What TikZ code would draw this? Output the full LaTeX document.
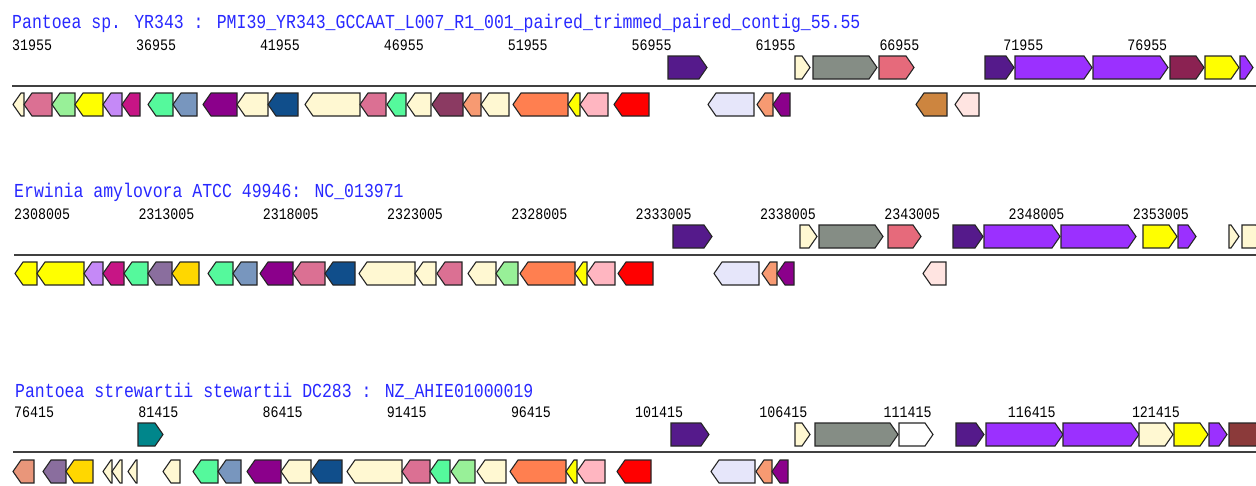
\documentclass[tikz,border=0pt]{standalone}
\usepackage{fontspec}
\usepackage{graphicx}
\newfontfamily\monof{Liberation Mono}
\definecolor{titleblue}{RGB}{40,40,255}
\definecolor{cream}{HTML}{FFF8D2}
\definecolor{pinkv}{HTML}{DB7093}
\definecolor{lgreen}{HTML}{98F098}
\definecolor{yel}{HTML}{FFFF00}
\definecolor{lav}{HTML}{C589F7}
\definecolor{mag}{HTML}{C71585}
\definecolor{aqua}{HTML}{55F99C}
\definecolor{steel}{HTML}{7896BE}
\definecolor{purp}{HTML}{8B008B}
\definecolor{dblue}{HTML}{104E8B}
\definecolor{hpink}{HTML}{8B3A62}
\definecolor{salm}{HTML}{F79A72}
\definecolor{coral}{HTML}{FF7F50}
\definecolor{lpink}{HTML}{FFB6C1}
\definecolor{red}{HTML}{FF0000}
\definecolor{lavl}{HTML}{E6E6FA}
\definecolor{indig}{HTML}{551A8B}
\definecolor{grayg}{HTML}{858D85}
\definecolor{pinkred}{HTML}{E66A7B}
\definecolor{purpb}{HTML}{9B30FF}
\definecolor{maroon}{HTML}{8B2252}
\definecolor{peru}{HTML}{CD853F}
\definecolor{misty}{HTML}{FFE4E1}
\definecolor{gold}{HTML}{FFD700}
\definecolor{gpurp}{HTML}{8A6E9E}
\definecolor{dsalm}{HTML}{E9967A}
\definecolor{teal}{HTML}{00868B}
\definecolor{brn}{HTML}{8B3A3A}
\tikzset{
  gene/.style={draw=black!85, line width=1.1pt, line join=miter},
  axisline/.style={draw=black!75, line width=2pt},
  titletext/.style={anchor=base west, inner sep=0pt, text=titleblue, font=\monof\fontsize{16.5}{18}\selectfont},
  numtext/.style={anchor=base west, inner sep=0pt, text=black, font=\monof\fontsize{13.3}{15}\selectfont}
}
\newcommand\gR[4]{%
  \pgfmathsetmacro{\gtip}{min(8,#2-#1)}%
  \filldraw[gene, fill=#4] (#1,#3) -- ({#2-\gtip},#3) -- (#2,{#3+11.5}) -- ({#2-\gtip},{#3+23}) -- (#1,{#3+23}) -- cycle;}
\newcommand\gL[4]{%
  \pgfmathsetmacro{\gtip}{min(8,#2-#1)}%
  \filldraw[gene, fill=#4] (#2,#3) -- ({#1+\gtip},#3) -- (#1,{#3+11.5}) -- ({#1+\gtip},{#3+23}) -- (#2,{#3+23}) -- cycle;}
\begin{document}
\begin{tikzpicture}[x=1pt,y=-1pt]
\useasboundingbox (0,0) rectangle (1256,485);
\clip (0,0) rectangle (1256,485);
\fill[white] (0,0) rectangle (1256,485);

% ---------------- Row 1 ----------------
\node[titletext] (t1) at (12,28) {\scalebox{1}[1.2]{Pantoea sp. YR343 : PMI39\_YR343\_GCCAAT\_L007\_R1\_001\_paired\_trimmed\_paired\_contig\_55.55}};
\foreach \lab [count=\k from 0] in {31955,36955,41955,46955,51955,56955,61955,66955,71955,76955}
  \node[numtext] (ra\k) at ({12+123.9*\k},50) {\scalebox{1}[1.2]{\lab}};
\draw[axisline] (12,86) -- (1256,86);
\gR{668}{707}{56}{indig}
\gR{795}{810}{56}{cream}
\gR{813}{877}{56}{grayg}
\gR{879}{914}{56}{pinkred}
\gR{985}{1014}{56}{indig}
\gR{1015}{1092}{56}{purpb}
\gR{1093}{1168}{56}{purpb}
\gR{1170}{1204}{56}{maroon}
\gR{1205}{1239}{56}{yel}
\gR{1240}{1253}{56}{purpb}
\gL{13}{24}{93}{cream}
\gL{24}{52}{93}{pinkv}
\gL{52}{75}{93}{lgreen}
\gL{75}{103}{93}{yel}
\gL{103}{122}{93}{lav}
\gL{122}{140}{93}{mag}
\gL{148}{173}{93}{aqua}
\gL{173}{197}{93}{steel}
\gL{203}{237}{93}{purp}
\gL{237}{268}{93}{cream}
\gL{268}{298}{93}{dblue}
\gL{305}{360}{93}{cream}
\gL{360}{386}{93}{pinkv}
\gL{387}{406}{93}{aqua}
\gL{407}{431}{93}{cream}
\gL{432}{463}{93}{hpink}
\gL{463}{481}{93}{salm}
\gL{481}{509}{93}{cream}
\gL{513}{568}{93}{coral}
\gL{568}{580}{93}{yel}
\gL{580}{608}{93}{lpink}
\gL{614}{649}{93}{red}
\gL{708}{754}{93}{lavl}
\gL{757}{773}{93}{salm}
\gL{773}{790}{93}{purp}
\gL{916}{947}{93}{peru}
\gL{955}{979}{93}{misty}

% ---------------- Row 2 ----------------
\node[titletext] (t2) at (14,197) {\scalebox{1}[1.2]{Erwinia amylovora ATCC 49946: NC\_013971}};
\foreach \lab [count=\k from 0] in {2308005,2313005,2318005,2323005,2328005,2333005,2338005,2343005,2348005,2353005}
  \node[numtext] (rb\k) at ({14+124.3*\k},219) {\scalebox{1}[1.2]{\lab}};
\draw[axisline] (14,255) -- (1256,255);
\gR{673}{712}{225}{indig}
\gR{800}{817}{225}{cream}
\gR{819}{883}{225}{grayg}
\gR{888}{921}{225}{pinkred}
\gR{953}{983}{225}{indig}
\gR{984}{1060}{225}{purpb}
\gR{1061}{1136}{225}{purpb}
\gR{1143}{1177}{225}{yel}
\gR{1178}{1196}{225}{purpb}
\gR{1229}{1239}{225}{cream}
\gR{1242}{1264}{225}{cream}
\gL{15}{37}{262}{yel}
\gL{37}{84}{262}{yel}
\gL{84}{103}{262}{lav}
\gL{103}{124}{262}{mag}
\gL{124}{148}{262}{aqua}
\gL{148}{172}{262}{gpurp}
\gL{172}{199}{262}{gold}
\gL{208}{233}{262}{aqua}
\gL{233}{257}{262}{steel}
\gL{260}{293}{262}{purp}
\gL{293}{325}{262}{pinkv}
\gL{325}{355}{262}{dblue}
\gL{359}{415}{262}{cream}
\gL{415}{436}{262}{cream}
\gL{437}{462}{262}{pinkv}
\gL{468}{496}{262}{cream}
\gL{496}{518}{262}{lgreen}
\gL{520}{575}{262}{coral}
\gL{575}{587}{262}{yel}
\gL{587}{615}{262}{lpink}
\gL{618}{653}{262}{red}
\gL{714}{759}{262}{lavl}
\gL{762}{777}{262}{salm}
\gL{777}{794}{262}{purp}
\gL{923}{946}{262}{misty}

% ---------------- Row 3 ----------------
\node[titletext] (t3) at (15,397) {\scalebox{1}[1.2]{Pantoea strewartii stewartii DC283 : NZ\_AHIE01000019}};
\foreach \lab [count=\k from 0] in {76415,81415,86415,91415,96415,101415,106415,111415,116415,121415}
  \node[numtext] (rc\k) at ({14+124.2*\k},417) {\scalebox{1}[1.2]{\lab}};
\draw[axisline] (13,452) -- (1256,452);
\gR{138}{163}{423}{teal}
\gR{671}{709}{423}{indig}
\gR{795}{810}{423}{cream}
\gR{815}{898}{423}{grayg}
\gR{899}{933}{423}{white}
\gR{956}{984}{423}{indig}
\gR{986}{1063}{423}{purpb}
\gR{1063}{1139}{423}{purpb}
\gR{1139}{1173}{423}{cream}
\gR{1174}{1208}{423}{yel}
\gR{1209}{1227}{423}{purpb}
\gR{1229}{1264}{423}{brn}
\gL{13}{34}{460}{dsalm}
\gL{43}{66}{460}{gpurp}
\gL{66}{93}{460}{gold}
\gL{103}{112}{460}{cream}
\gL{112}{122}{460}{cream}
\gL{128}{137}{460}{cream}
\gL{163}{180}{460}{cream}
\gL{193}{218}{460}{aqua}
\gL{218}{241}{460}{steel}
\gL{247}{281}{460}{purp}
\gL{281}{311}{460}{cream}
\gL{311}{342}{460}{dblue}
\gL{347}{402}{460}{cream}
\gL{402}{430}{460}{pinkv}
\gL{430}{450}{460}{aqua}
\gL{451}{475}{460}{lgreen}
\gL{477}{506}{460}{cream}
\gL{510}{566}{460}{coral}
\gL{566}{577}{460}{yel}
\gL{577}{605}{460}{lpink}
\gL{617}{651}{460}{red}
\gL{711}{755}{460}{lavl}
\gL{756}{772}{460}{salm}
\gL{772}{788}{460}{purp}
\end{tikzpicture}
\end{document}
